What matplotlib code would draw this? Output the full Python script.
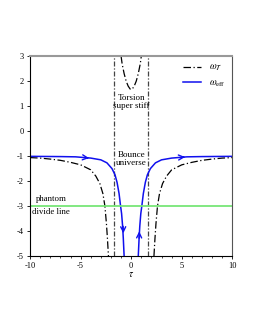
import matplotlib
matplotlib.use("Agg")
import matplotlib.pyplot as plt

plt.rcParams['font.family'] = ['Liberation Serif', 'DejaVu Serif']
plt.rcParams['mathtext.fontset'] = 'stix'
plt.rcParams['axes.unicode_minus'] = False

# omega_T (black dash-dot), three branches
wt_left_tau = [-10, -9, -8, -7, -6, -5, -4, -3.5, -3.1, -2.8, -2.6, -2.45, -2.35, -2.25]
wt_left_w = [-1.06, -1.08, -1.12, -1.17, -1.25, -1.35, -1.55, -1.8, -2.1, -2.5, -3.0, -3.7, -4.3, -5.0]
wt_mid_tau = [-1.0, -0.9, -0.7, -0.5, -0.3, -0.1, 0.0, 0.1, 0.3, 0.5, 0.7, 0.9, 1.0]
wt_mid_w = [3.0, 2.7, 2.3, 2.0, 1.8, 1.68, 1.67, 1.68, 1.8, 2.0, 2.3, 2.7, 3.0]
wt_right_tau = [2.25, 2.35, 2.45, 2.6, 2.8, 3.1, 3.5, 4.0, 5, 6, 7, 8, 9, 10]
wt_right_w = [-5.0, -4.3, -3.7, -3.0, -2.5, -2.1, -1.8, -1.55, -1.35, -1.25, -1.17, -1.12, -1.08, -1.06]
asymptotes = [-1.7, 1.7]

# omega_eff (blue), two branches
we_left_tau = [-10, -7, -5.5, -4, -3, -2.4, -1.9, -1.6, -1.4, -1.2, -1.05, -0.95, -0.85, -0.78, -0.70]
we_left_w = [-1.01, -1.02, -1.03, -1.08, -1.15, -1.27, -1.5, -1.75, -2.05, -2.5, -3.0, -3.3, -3.8, -4.3, -5.0]
we_right_tau = [0.70, 0.78, 0.85, 0.95, 1.05, 1.2, 1.4, 1.6, 1.9, 2.4, 3, 4, 5.5, 7, 10]
we_right_w = [-5.0, -4.3, -3.8, -3.3, -3.0, -2.5, -2.05, -1.75, -1.5, -1.27, -1.15, -1.08, -1.03, -1.02, -1.01]
phantom = -3

fig = plt.figure(figsize=(2.55, 3.3), dpi=100)
ax = fig.add_axes([0.118, 0.224, 0.793, 0.606])

dash = (0, (6, 2, 1, 2))
ax.plot(wt_left_tau, wt_left_w, color='black', lw=0.9, linestyle=dash, label=r'$\omega_{\mathcal{T}}$')
ax.plot(wt_mid_tau, wt_mid_w, color='black', lw=0.9, linestyle=dash)
ax.plot(wt_right_tau, wt_right_w, color='black', lw=0.9, linestyle=dash)
for a in asymptotes:
    ax.axvline(a, color='#444444', lw=0.9, linestyle=(0, (4, 1.5, 1, 1.5)))

ax.plot(we_left_tau, we_left_w, color='#1010ee', lw=1.1, label=r'$\omega_{\rm eff}$')
ax.plot(we_right_tau, we_right_w, color='#1010ee', lw=1.1)
ax.axhline(phantom, color='#77e677', lw=1.3)

# arrows along the blue curves
arr = dict(arrowstyle='->', color='#1010ee', lw=1.0, mutation_scale=9)
for (x0, y0), (x1, y1) in [((-4.6, -1.06), (-3.9, -1.09)),
                           ((-0.8, -3.7), (-0.77, -4.2)),
                           ((0.78, -4.4), (0.8, -3.9)),
                           ((4.9, -1.05), (5.6, -1.03))]:
    ax.annotate('', xy=(x1, y1), xytext=(x0, y0), arrowprops=arr)

ax.set_xlim(-10, 10)
ax.set_ylim(-5, 3)
ax.set_xticks([-10, -5, 0, 5, 10])
ax.set_xticks(range(-10, 11), minor=True)
ax.set_yticks(range(-5, 4))
ax.tick_params(labelsize=6, length=2.5, width=0.6, pad=2)
ax.tick_params(which='minor', length=1.5, width=0.5)
ax.spines['top'].set_color('#999999')
ax.spines['top'].set_linewidth(1.5)
ax.spines['right'].set_color('#555555')
ax.spines['left'].set_linewidth(0.8)
ax.spines['bottom'].set_linewidth(0.8)
ax.set_xlabel(r'$\tau$', fontsize=7, labelpad=0)

ax.text(0, 1.18, 'Torsion\nsuper stiff', ha='center', va='center', fontsize=6.5, linespacing=1.0)
ax.text(0, -1.13, 'Bounce\nuniverse', ha='center', va='center', fontsize=6.5, linespacing=1.05)
ax.text(-7.9, -2.72, 'phantom', ha='center', va='center', fontsize=6.3)
ax.text(-7.9, -3.24, 'divide line', ha='center', va='center', fontsize=6.3)

ax.legend(loc='upper right', frameon=False, fontsize=7, handlelength=1.9,
          borderaxespad=0.3, labelspacing=0.5)

fig.savefig('out.png', dpi=100)
